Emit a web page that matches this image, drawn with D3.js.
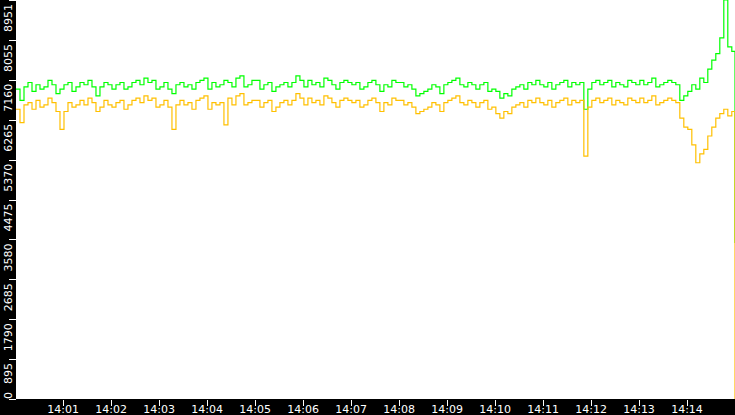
<!DOCTYPE html>
<html>
<head>
  <script src="https://d3js.org/d3.v7.min.js"></script>
  <style>
    body { margin: 0; background: black; }
    svg { display: block; }
    text { font-family: "DejaVu Sans", sans-serif; font-size: 11px; fill: white; }
  </style>
</head>
<body>
<svg width="735" height="415"></svg>
<script>
  // Werte alle 5 s ab 14:00:01, letzter Punkt 14:15:00
  const green = [
    6950,6700,7000,7100,6900,7050,6950,7000,7150,7050,6850,6950,
    7050,7100,6900,7000,7100,7050,7150,7000,6800,7000,7100,7050,
    6950,7050,7100,6950,7000,7100,7150,7050,7200,7100,7150,6950,
    7000,7100,6950,6850,7050,7100,7000,7050,6950,7100,7150,7200,
    6950,7100,7000,7050,7150,7100,7000,7200,7250,7000,7050,7150,
    7150,6950,7050,7100,6900,7000,7050,7100,7000,7100,7250,7150,
    7000,7150,7050,7100,7000,7200,7150,7050,6950,7100,7150,7100,
    7050,7100,6950,7000,7100,7150,7050,6900,7050,7000,7150,7100,
    7100,7000,7050,6950,6800,6850,6900,6950,7050,7000,6850,7050,
    7100,7150,7200,7050,7000,7100,7050,6950,7050,7100,6900,6950,
    6900,6750,6850,6800,6950,7000,7050,6950,7100,7050,7150,7050,
    7000,7100,6950,7050,7100,7150,7000,7100,7050,7100,6500,6950,
    7100,7150,7050,7100,7150,7000,7100,7050,7000,7150,7100,7050,
    7150,7050,7100,7200,7000,7050,7100,7150,7100,7050,6700,6800,
    6900,7050,6950,7200,7100,7400,7600,7750,8100,8951,7900,7800,
    3500
  ];
  const orange = [
    6500,6200,6600,6650,6500,6700,6550,6600,6750,6650,6450,6050,
    6450,6650,6550,6600,6700,6600,6750,6650,6450,6550,6700,6600,
    6550,6650,6700,6500,6600,6700,6750,6650,6800,6700,6750,6550,
    6600,6700,6550,6050,6600,6700,6600,6650,6500,6700,6750,6800,
    6500,6650,6600,6650,6150,6750,6600,6800,6850,6600,6650,6700,
    6700,6550,6650,6700,6450,6550,6650,6700,6600,6700,6850,6750,
    6600,6750,6650,6700,6600,6800,6750,6650,6550,6700,6750,6700,
    6650,6700,6550,6600,6700,6750,6650,6450,6650,6600,6750,6700,
    6700,6600,6650,6550,6400,6450,6500,6550,6650,6600,6450,6650,
    6700,6750,6800,6650,6600,6700,6650,6550,6650,6700,6500,6550,
    6400,6300,6450,6400,6550,6600,6650,6550,6700,6650,6750,6650,
    6600,6700,6550,6650,6700,6750,6600,6700,6650,6700,5450,6550,
    6700,6750,6650,6700,6750,6600,6700,6650,6600,6750,6700,6650,
    6750,6650,6700,6800,6600,6650,6700,6750,6700,6650,6300,6100,
    6050,5700,5300,5500,5600,5900,6100,6300,6400,6500,6350,6450,
    0
  ];
  const yTicks = [0, 895, 1790, 2685, 3580, 4475, 5370, 6265, 7160, 8055, 8951];
  const xTickLabels = ["14:01","14:02","14:03","14:04","14:05","14:06","14:07",
                       "14:08","14:09","14:10","14:11","14:12","14:13","14:14"];

  const t0 = new Date(2020, 0, 1, 14, 0, 1);
  const times = green.map((d, i) => i === green.length - 1
    ? new Date(2020, 0, 1, 14, 15, 0)
    : new Date(t0.getTime() + i * 5000));

  const svg = d3.select("svg");
  const left = 16, bottom = 399, W = 735;

  svg.append("rect").attr("x", left).attr("y", 0)
    .attr("width", W - left).attr("height", bottom).attr("fill", "white");

  const x = d3.scaleTime()
    .domain([new Date(2020, 0, 1, 14, 0, 1.25), new Date(2020, 0, 1, 14, 15, 0)])
    .range([left, W]);
  const y = d3.scaleLinear().domain([0, 8951]).range([bottom, 0]);

  const line = d3.line()
    .x((d, i) => x(times[i]))
    .y(d => y(d))
    .curve(d3.curveStepAfter);

  svg.append("path").attr("d", line(green))
    .attr("fill", "none").attr("stroke", "#00ff00").attr("stroke-width", 1.2);
  svg.append("path").attr("d", line(orange))
    .attr("fill", "none").attr("stroke", "#ffc000").attr("stroke-width", 1.2);

  // Y-Achse
  const yg = svg.append("g");
  yg.selectAll("line").data(yTicks).enter().append("line")
    .attr("x1", 9).attr("x2", left).attr("y1", d => Math.round(y(d)) + 0.5).attr("y2", d => Math.round(y(d)) + 0.5)
    .attr("stroke", "white");
  yg.selectAll("text").data(yTicks).enter().append("text")
    .attr("transform", d => `translate(12,${Math.min(y(d) + 4, 392)}) rotate(-90)`)
    .attr("text-anchor", "end")
    .text(d => d);

  // X-Achse
  const xt = xTickLabels.map((s, i) => new Date(2020, 0, 1, 14, i + 1, 0));
  const xg = svg.append("g");
  xg.selectAll("line").data(xt).enter().append("line")
    .attr("x1", d => Math.round(x(d)) + 0.5).attr("x2", d => Math.round(x(d)) + 0.5)
    .attr("y1", bottom + 1).attr("y2", bottom + 7).attr("stroke", "white");
  xg.selectAll("text").data(xt).enter().append("text")
    .attr("x", d => x(d)).attr("y", 413).attr("text-anchor", "middle")
    .text((d, i) => xTickLabels[i]);
</script>
</body>
</html>
